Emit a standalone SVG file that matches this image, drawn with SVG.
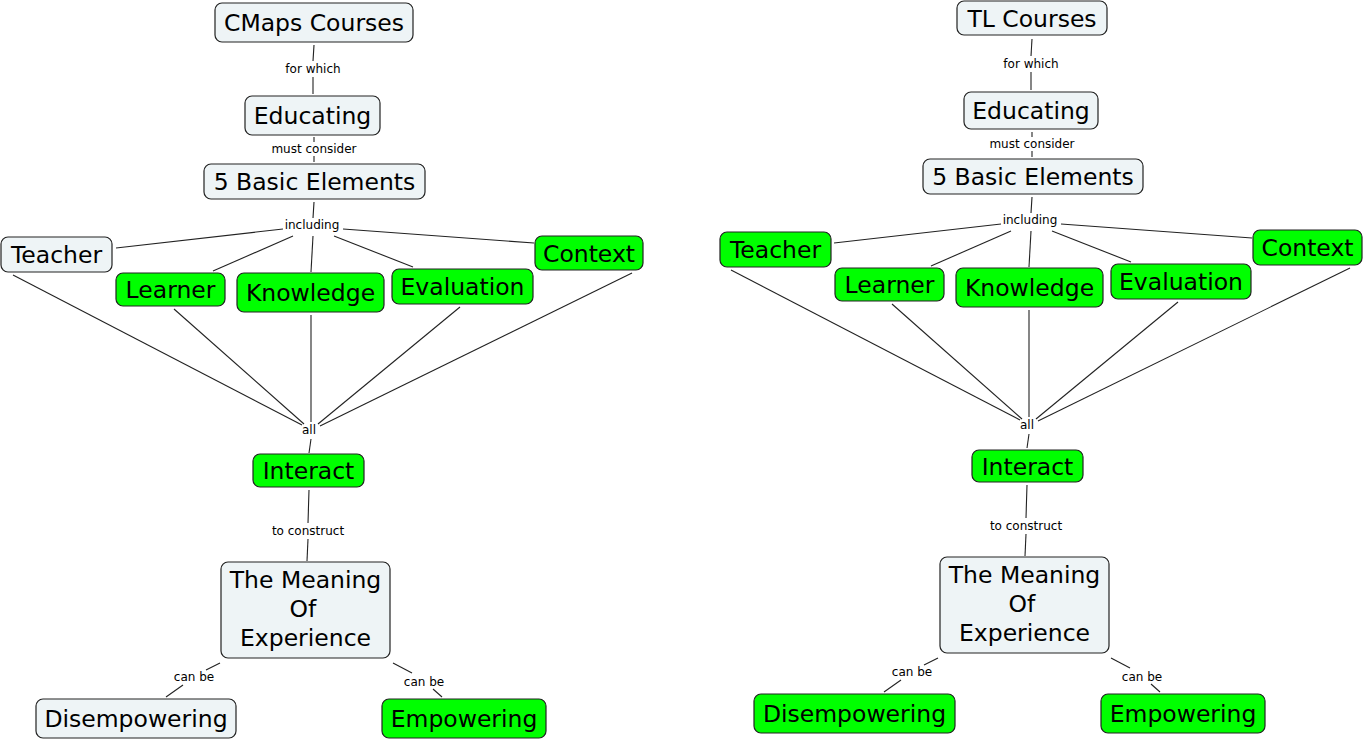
<svg xmlns="http://www.w3.org/2000/svg" width="1364" height="740" viewBox="0 0 1364 740">
<style>
.n rect{stroke:#222;stroke-width:1.2}
.g rect{fill:#00ff00}
.b rect{fill:#eef4f6}
.n text{font-family:"DejaVu Sans",Verdana,sans-serif;font-size:23.5px;fill:#000;text-anchor:middle}
.lb{font-family:"DejaVu Sans",Verdana,sans-serif;font-size:12px;fill:#000;text-anchor:middle}
#links line{stroke:#222;stroke-width:1.1}
</style>
<rect width="1364" height="740" fill="#fff"/>
<g id="links">
<line x1="314" y1="45" x2="313" y2="61"/><line x1="313" y1="77" x2="313" y2="94"/>
<line x1="314" y1="137" x2="314" y2="142"/><line x1="314" y1="156" x2="314" y2="162"/>
<line x1="314" y1="202" x2="313" y2="218"/>
<line x1="283" y1="229" x2="116" y2="248"/>
<line x1="293" y1="236" x2="213" y2="271"/>
<line x1="313" y1="236" x2="311" y2="272"/>
<line x1="334" y1="236" x2="413" y2="267"/>
<line x1="343" y1="229" x2="534" y2="243"/>
<line x1="13" y1="275" x2="302" y2="425"/>
<line x1="174" y1="309" x2="304" y2="424"/>
<line x1="311" y1="315" x2="311" y2="422"/>
<line x1="460" y1="307" x2="318" y2="424"/>
<line x1="632" y1="273" x2="320" y2="426"/>
<line x1="311" y1="439" x2="309" y2="453"/>
<line x1="309" y1="490" x2="308" y2="523"/><line x1="308" y1="539" x2="307" y2="561"/>
<line x1="220" y1="663" x2="206" y2="670"/><line x1="183" y1="685" x2="166" y2="697"/>
<line x1="393" y1="663" x2="412" y2="673"/><line x1="433" y1="689" x2="442" y2="697"/>

<line x1="1032" y1="39" x2="1031" y2="56"/><line x1="1031" y1="72" x2="1031" y2="90"/>
<line x1="1032" y1="132" x2="1032" y2="137"/><line x1="1032" y1="151" x2="1032" y2="157"/>
<line x1="1032" y1="197" x2="1031" y2="213"/>
<line x1="1001" y1="224" x2="834" y2="243"/>
<line x1="1011" y1="231" x2="931" y2="266"/>
<line x1="1031" y1="231" x2="1029" y2="267"/>
<line x1="1052" y1="231" x2="1131" y2="262"/>
<line x1="1061" y1="224" x2="1252" y2="238"/>
<line x1="731" y1="270" x2="1020" y2="420"/>
<line x1="892" y1="304" x2="1022" y2="419"/>
<line x1="1029" y1="310" x2="1029" y2="417"/>
<line x1="1178" y1="302" x2="1036" y2="419"/>
<line x1="1350" y1="268" x2="1038" y2="421"/>
<line x1="1029" y1="434" x2="1027" y2="448"/>
<line x1="1027" y1="485" x2="1026" y2="518"/><line x1="1026" y1="534" x2="1025" y2="556"/>
<line x1="938" y1="658" x2="924" y2="665"/><line x1="901" y1="680" x2="884" y2="692"/>
<line x1="1111" y1="658" x2="1130" y2="668"/><line x1="1151" y1="684" x2="1160" y2="692"/>
</g>
<g id="link-labels">
<text class="lb" x="313" y="73">for which</text>
<text class="lb" x="314" y="153">must consider</text>
<text class="lb" x="312" y="229">including</text>
<text class="lb" x="309" y="434">all</text>
<text class="lb" x="308" y="535">to construct</text>
<text class="lb" x="194" y="681">can be</text>
<text class="lb" x="424" y="686">can be</text>
<text class="lb" x="1031" y="68">for which</text>
<text class="lb" x="1032" y="148">must consider</text>
<text class="lb" x="1030" y="224">including</text>
<text class="lb" x="1027" y="429">all</text>
<text class="lb" x="1026" y="530">to construct</text>
<text class="lb" x="912" y="676">can be</text>
<text class="lb" x="1142" y="681">can be</text>
</g>
<g id="L-cmaps" class="n b"><rect x="215" y="3" width="198" height="39" rx="7"/><text x="314" y="30.5">CMaps Courses</text></g>
<g id="L-educating" class="n b"><rect x="245" y="96" width="135" height="39" rx="7"/><text x="312.5" y="124">Educating</text></g>
<g id="L-5basic" class="n b"><rect x="204" y="164" width="221" height="35" rx="7"/><text x="314.5" y="190">5 Basic Elements</text></g>
<g id="L-teacher" class="n b"><rect x="1" y="237" width="111" height="35" rx="7"/><text x="56.5" y="263">Teacher</text></g>
<g id="L-learner" class="n g"><rect x="116" y="273" width="109" height="33" rx="7"/><text x="170.5" y="298">Learner</text></g>
<g id="L-knowledge" class="n g"><rect x="237" y="273" width="147" height="39" rx="7"/><text x="310.5" y="301">Knowledge</text></g>
<g id="L-evaluation" class="n g"><rect x="392" y="269" width="141" height="35" rx="7"/><text x="462.5" y="295">Evaluation</text></g>
<g id="L-context" class="n g"><rect x="535" y="236" width="108" height="34" rx="7"/><text x="589" y="261.5">Context</text></g>
<g id="L-interact" class="n g"><rect x="253" y="454" width="111" height="33" rx="7"/><text x="308.5" y="479">Interact</text></g>
<g id="L-meaning" class="n b"><rect x="221" y="562" width="169" height="96" rx="7"/><text x="305.5" y="588">The Meaning</text><text x="303" y="617">Of</text><text x="305.5" y="646">Experience</text></g>
<g id="L-disempowering" class="n b"><rect x="36" y="699" width="200" height="39" rx="7"/><text x="136" y="727">Disempowering</text></g>
<g id="L-empowering" class="n g"><rect x="382" y="699" width="164" height="39" rx="7"/><text x="464" y="727">Empowering</text></g>

<g id="R-tl" class="n b"><rect x="957" y="1" width="150" height="34" rx="7"/><text x="1032" y="26.5">TL Courses</text></g>
<g id="R-educating" class="n b"><rect x="964" y="92" width="134" height="37" rx="7"/><text x="1031" y="119">Educating</text></g>
<g id="R-5basic" class="n b"><rect x="923" y="159" width="220" height="35" rx="7"/><text x="1033" y="185">5 Basic Elements</text></g>
<g id="R-teacher" class="n g"><rect x="720" y="232" width="111" height="35" rx="7"/><text x="775.5" y="258">Teacher</text></g>
<g id="R-learner" class="n g"><rect x="835" y="268" width="109" height="33" rx="7"/><text x="889.5" y="293">Learner</text></g>
<g id="R-knowledge" class="n g"><rect x="956" y="268" width="147" height="39" rx="7"/><text x="1029.5" y="296">Knowledge</text></g>
<g id="R-evaluation" class="n g"><rect x="1111" y="264" width="140" height="35" rx="7"/><text x="1181" y="290">Evaluation</text></g>
<g id="R-context" class="n g"><rect x="1253" y="230" width="109" height="35" rx="7"/><text x="1307.5" y="256">Context</text></g>
<g id="R-interact" class="n g"><rect x="972" y="450" width="111" height="32" rx="7"/><text x="1027.5" y="474.5">Interact</text></g>
<g id="R-meaning" class="n b"><rect x="940" y="557" width="169" height="96" rx="7"/><text x="1024.5" y="583">The Meaning</text><text x="1022" y="612">Of</text><text x="1024.5" y="641">Experience</text></g>
<g id="R-disempowering" class="n g"><rect x="754" y="694" width="201" height="39" rx="7"/><text x="854.5" y="722">Disempowering</text></g>
<g id="R-empowering" class="n g"><rect x="1101" y="694" width="164" height="39" rx="7"/><text x="1183" y="722">Empowering</text></g>
</svg>
